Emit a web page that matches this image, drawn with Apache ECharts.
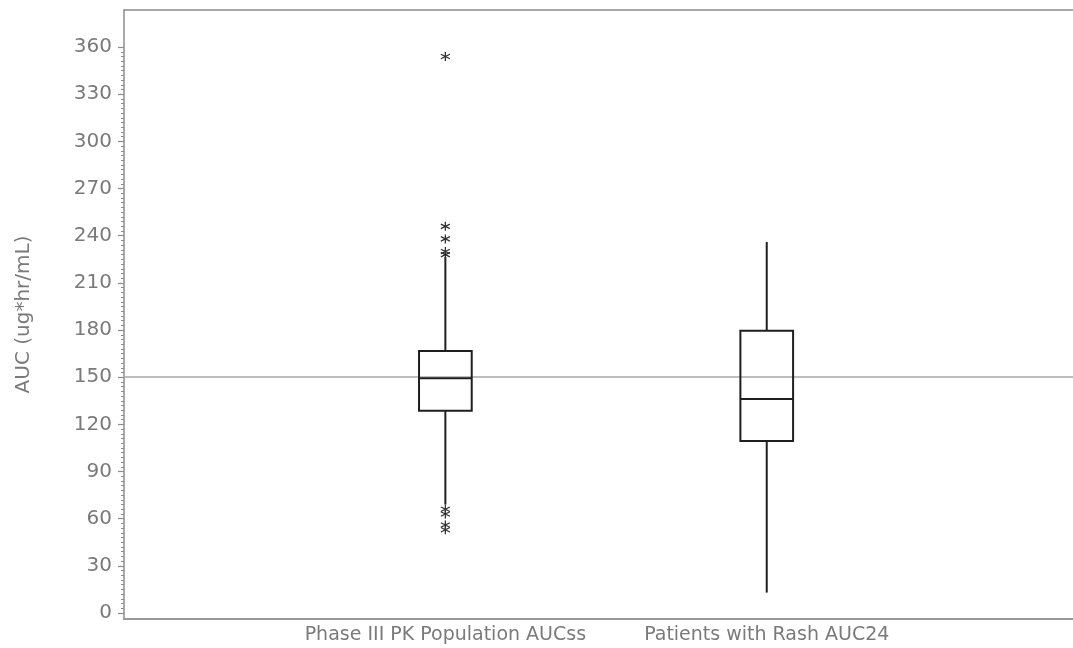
<!DOCTYPE html>
<html>
<head>
<meta charset="utf-8">
<script src="https://cdn.jsdelivr.net/npm/echarts@6/dist/echarts.min.js"></script>
<style>
  html, body { margin: 0; padding: 0; background: #fff; overflow: hidden; }
  #chart { width: 1073px; height: 648px; }
</style>
</head>
<body>
<div id="chart"></div>
<script>
// Groups shown along the x axis and their positions on it
const categories = ['Phase III PK Population AUCss', 'Patients with Rash AUC24'];
const categoryPos = [1, 2];

// Box summaries per group: [lower whisker, Q1, median, Q3, upper whisker]
const phase3Stats = [69, 128.6, 149.4, 166.7, 226.5];
const rashStats = [13, 109.5, 136.2, 179.6, 236];

// Points beyond the whiskers
const phase3Outliers = [354, 246, 238, 230, 228, 66, 63, 56, 53];
const rashOutliers = [];

// Y axis tick labels and the horizontal reference level
const yTicks = [0, 30, 60, 90, 120, 150, 180, 210, 240, 270, 300, 330, 360];
const refLevel = 150;

const yMinorTicks = [];
for (let v = 0; v <= 360; v += 3) if (v % 30 !== 0) yMinorTicks.push(v);

const boxData = [
  [categoryPos[0]].concat(phase3Stats),
  [categoryPos[1]].concat(rashStats)
];
const outlierData = []
  .concat(phase3Outliers.map(v => [categoryPos[0], v]))
  .concat(rashOutliers.map(v => [categoryPos[1], v]));

const boxWidth = 0.164;
const ink = '#1f1f1f';
const axisGray = '#8c8c8c';
const textGray = '#7a7a7a';
const font = 'DejaVu Sans';

function renderBox(params, api) {
  const x = api.value(0);
  const lo = api.coord([x, api.value(1)]);
  const q1 = api.coord([x, api.value(2)]);
  const md = api.coord([x, api.value(3)]);
  const q3 = api.coord([x, api.value(4)]);
  const hi = api.coord([x, api.value(5)]);
  const hw = api.size([boxWidth, 0])[0] / 2;
  const st = { stroke: ink, lineWidth: 2, fill: 'none' };
  return {
    type: 'group',
    children: [
      { type: 'line', shape: { x1: lo[0], y1: lo[1], x2: q1[0], y2: q1[1] }, style: st },
      { type: 'line', shape: { x1: q3[0], y1: q3[1], x2: hi[0], y2: hi[1] }, style: st },
      { type: 'rect', shape: { x: q3[0] - hw, y: q3[1], width: 2 * hw, height: q1[1] - q3[1] }, style: st },
      { type: 'line', shape: { x1: md[0] - hw, y1: md[1], x2: md[0] + hw, y2: md[1] }, style: st }
    ]
  };
}

const yRange = { min: -3.8, max: 383.6 };
const xRange = { min: 0, max: 2.953 };
// plot area runs slightly past the right edge so it has no closing side
const plotRect = { left: 124, right: -2, top: 10, bottom: 29 };

const hiddenAxis = {
  axisLine: { show: false }, axisTick: { show: false },
  axisLabel: { show: false }, splitLine: { show: false }
};

const chart = echarts.init(document.getElementById('chart'), null, { renderer: 'canvas' });
chart.setOption({
  animation: false,
  backgroundColor: '#fff',
  // the second grid shares the plot rectangle and carries the minor y ticks
  grid: [Object.assign({}, plotRect), Object.assign({}, plotRect)],
  xAxis: [
    {
      gridIndex: 0, type: 'value', position: 'bottom', min: xRange.min, max: xRange.max,
      axisLine: { show: true, onZero: false, lineStyle: { color: '#999', width: 2 } },
      axisTick: { show: false },
      splitLine: { show: false },
      axisLabel: {
        customValues: categoryPos,
        formatter: v => { const i = categoryPos.indexOf(v); return i >= 0 ? categories[i] : ''; },
        fontFamily: font, fontSize: 19, color: textGray, margin: 7
      }
    },
    {
      gridIndex: 0, type: 'value', position: 'top', min: xRange.min, max: xRange.max,
      axisLine: { show: true, onZero: false, lineStyle: { color: axisGray, width: 1.5 } },
      axisTick: { show: false }, axisLabel: { show: false }, splitLine: { show: false }
    },
    Object.assign({ gridIndex: 1, type: 'value', position: 'bottom', min: xRange.min, max: xRange.max }, hiddenAxis)
  ],
  yAxis: [
    {
      gridIndex: 0, type: 'value', position: 'left', min: yRange.min, max: yRange.max,
      name: 'AUC (ug*hr/mL)', nameLocation: 'middle', nameGap: 90,
      nameTextStyle: { fontFamily: font, fontSize: 20, color: textGray },
      axisLine: { show: true, lineStyle: { color: axisGray, width: 1.5 } },
      axisTick: { show: true, customValues: yTicks, length: 6, lineStyle: { color: axisGray, width: 1.2 } },
      axisLabel: { customValues: yTicks, fontFamily: font, fontSize: 20, color: textGray, margin: 12 },
      splitLine: { show: false }
    },
    {
      gridIndex: 1, type: 'value', position: 'left', min: yRange.min, max: yRange.max,
      axisLine: { show: false },
      axisTick: { show: true, customValues: yMinorTicks, length: 3, lineStyle: { color: axisGray, width: 1 } },
      axisLabel: { show: false },
      splitLine: { show: false }
    }
  ],
  series: [
    {
      type: 'custom',
      xAxisIndex: 0, yAxisIndex: 0,
      renderItem: renderBox,
      encode: { x: 0, y: [1, 2, 3, 4, 5] },
      data: boxData,
      z: 3
    },
    {
      type: 'scatter',
      xAxisIndex: 0, yAxisIndex: 0,
      symbol: 'path://M5,0L5,10M0.67,2.5L9.33,7.5M0.67,7.5L9.33,2.5',
      symbolSize: 9,
      itemStyle: { color: 'rgba(0,0,0,0)', borderColor: '#333', borderWidth: 1.3, opacity: 1 },
      data: outlierData,
      z: 4,
      markLine: {
        silent: true,
        symbol: 'none',
        label: { show: false },
        lineStyle: { color: '#a8a8a8', width: 1.5, type: 'solid' },
        data: [{ yAxis: refLevel }],
        z: 1
      }
    }
  ]
});
</script>
</body>
</html>
